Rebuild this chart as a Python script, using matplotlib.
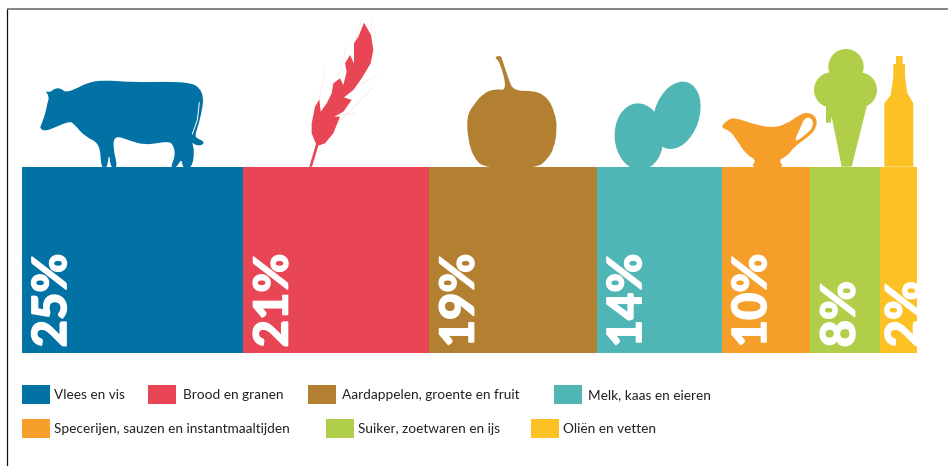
import matplotlib
matplotlib.use("Agg")
import matplotlib.pyplot as plt
import matplotlib.patheffects as pe
from matplotlib.path import Path
from matplotlib.patches import Circle, Ellipse, PathPatch, Polygon, Rectangle

W, H = 948, 466

categories = ["Vlees en vis", "Brood en granen", "Aardappelen, groente en fruit", "Melk, kaas en eieren",
              "Specerijen, sauzen en instantmaaltijden", "Suiker, zoetwaren en ijs", "Oliën en vetten"]
percent = [25, 21, 19, 14, 10, 8, 2]
# the 2% block is drawn wider than its share in the original
bar_width = [25, 21, 18.9, 14.1, 10, 7.9, 4.2]
colors = ["#0271A3", "#E84655", "#B38031", "#4FB5B5", "#F59F2A", "#B1CE4A", "#FCC225"]
legend_rows = [[0, 1, 2, 3], [4, 5, 6]]

fig = plt.figure(figsize=(W / 100, H / 100), dpi=100, facecolor="white")

# overlay in pixel coordinates for the frame, icons and legend
bg = fig.add_axes([0, 0, 1, 1])
bg.set_xlim(0, W)
bg.set_ylim(H, 0)
bg.axis("off")

bg.plot([7, W], [8.8, 8.8], color="#707070", lw=1.2, solid_capstyle="butt")
bg.plot([7.3, 7.3], [8.8, H], color="#111111", lw=0.9, solid_capstyle="butt")


def z1(pts):
    return [(x / 3, y / 3) for x, y in pts]


def z2(pts):
    return [(470 + x / 3, y / 3) for x, y in pts]


def smooth(pts, color):
    # rounded outline: corners become quadratic curves between edge midpoints
    n = len(pts)
    mids = [((pts[i][0] + pts[(i + 1) % n][0]) / 2, (pts[i][1] + pts[(i + 1) % n][1]) / 2) for i in range(n)]
    verts = [mids[-1]]
    codes = [Path.MOVETO]
    for i in range(n):
        verts += [pts[i], mids[i]]
        codes += [Path.CURVE3, Path.CURVE3]
    return PathPatch(Path(verts, codes), fc=color, ec="none")


cow = [(122, 378), (135, 345), (142, 310), (148, 290), (135, 272), (150, 278), (165, 264), (185, 266),
       (195, 277), (225, 268), (262, 248), (310, 240), (400, 247), (500, 245), (570, 248), (598, 262),
       (610, 290), (608, 320), (597, 370), (585, 405), (590, 415), (614, 425), (605, 437), (585, 435),
       (575, 425), (584, 455), (575, 505), (548, 505), (545, 475), (528, 505), (510, 505), (527, 465),
       (518, 430), (500, 425), (470, 430), (430, 434), (390, 422), (345, 406), (338, 440), (354, 505),
       (332, 505), (327, 455), (322, 505), (303, 505), (300, 430), (255, 410), (225, 375), (210, 363),
       (170, 380), (135, 394), (120, 385)]
bg.add_patch(smooth(z1(cow), colors[0]))
bg.plot(*zip(*z1([(598, 308), (592, 360), (577, 402)])), color="white", lw=0.7)

awns = [[(1000, 300), (1125, 130)], [(1025, 290), (1130, 225)], [(1010, 345), (1065, 340)],
        [(985, 400), (1115, 265)], [(955, 310), (975, 205)], [(1015, 235), (1040, 140)],
        [(1062, 130), (1085, 60)], [(1110, 150), (1115, 55)]]
for awn in awns:
    bg.plot(*zip(*z1(awn)), color=colors[1], lw=0.7, alpha=0.1)
wheat = [(928, 500), (948, 432), (935, 400), (935, 370), (945, 320), (958, 298), (962, 335), (980, 310),
         (995, 280), (1000, 250), (1020, 235), (1030, 255), (1040, 215), (1035, 190), (1050, 165),
         (1062, 190), (1062, 130), (1075, 110), (1092, 68), (1113, 105), (1120, 150), (1112, 190),
         (1085, 235), (1060, 270), (1032, 292), (1055, 300), (1030, 335), (1003, 350), (1020, 350),
         (1000, 400), (975, 430), (955, 437), (936, 500)]
bg.add_patch(Polygon(z1(wheat), fc=colors[1], ec="none"))

apple = [(-10, 350), (10, 315), (40, 280), (75, 266), (112, 272), (90, 185), (72, 172), (92, 166), (97, 180),
         (115, 235), (130, 273), (195, 272), (232, 292), (254, 335), (262, 385), (252, 445), (232, 478),
         (200, 505), (45, 505), (12, 475), (-6, 420)]
bg.add_patch(smooth(z2(apple), colors[2]))

bg.add_patch(Ellipse((470 + 507 / 3, 410 / 3), 146 / 3, 200 / 3, angle=-4, fc=colors[3], ec="none"))
bg.add_patch(Ellipse((470 + 620 / 3, 346 / 3), 135 / 3, 208 / 3, angle=18, fc=colors[3], ec="none"))

boat = [(750, 382), (775, 358), (795, 353), (850, 372), (905, 384), (950, 372), (990, 343), (1015, 336),
        (1040, 352), (1040, 382), (1020, 407), (975, 438), (950, 470), (925, 480), (945, 505), (840, 505),
        (860, 480), (830, 465), (800, 420), (780, 392)]
bg.add_patch(smooth(z2(boat), colors[4]))
bg.add_patch(smooth(z2([(1005, 351), (1027, 356), (1030, 380), (1010, 402), (970, 430), (990, 385)]), "white"))

for cx, cy in [(1128, 200), (1085, 270), (1168, 270)]:
    bg.add_patch(Circle((470 + cx / 3, cy / 3), 53 / 3, fc=colors[5], ec="none"))
cone = [(1068, 310), (1068, 368), (1082, 368), (1085, 350), (1115, 500), (1145, 500), (1190, 320), (1170, 250), (1090, 250)]
bg.add_patch(Polygon(z2(cone), fc=colors[5], ec="none"))

bottle = [(1278, 168), (1298, 168), (1298, 192), (1305, 192), (1305, 230), (1312, 280), (1330, 310),
          (1330, 500), (1243, 500), (1243, 310), (1262, 285), (1270, 230), (1270, 192), (1278, 192)]
bg.add_patch(Polygon(z2(bottle), fc=colors[6], ec="none"))

# stacked block, on its own axes so the scale comes from the values
ax = fig.add_axes([21.7 / W, 1 - 353 / H, (917.5 - 21.7) / W, (353 - 166.5) / H])
ax.patch.set_alpha(0)
ax.set_xlim(0, sum(bar_width))
ax.set_ylim(0, 1)
ax.axis("off")

left = 0
for pct, width, color in zip(percent, bar_width, colors):
    ax.bar(left, 1, width=width, align="edge", color=color)
    txt = ax.text(left + 0.95 if pct > 2 else left + 0.35, 0.03, f"{pct}%", rotation=90, ha="left", va="bottom",
                  color="white", fontsize=34, family="Lato", weight="black")
    txt.set_path_effects([pe.withStroke(linewidth=1.0, foreground="white")])
    left += width

# legend
swatch_x = [[21.8, 148, 308, 554], [21.8, 326, 531]]
text_x = [[54.4, 182.6, 341.6, 587.7], [54.4, 358.5, 563.5]]
row_y = [385, 419]
for row, y, sx, tx in zip(legend_rows, row_y, swatch_x, text_x):
    for idx, x0, x1 in zip(row, sx, tx):
        bg.add_patch(Rectangle((x0, y), 27.8, 19.2, fc=colors[idx], ec="none"))
        bg.text(x1, y + 14, categories[idx], fontsize=9.8, family="Lato", color="#222222",
                ha="left", va="baseline")

fig.savefig("out.png", dpi=100)
